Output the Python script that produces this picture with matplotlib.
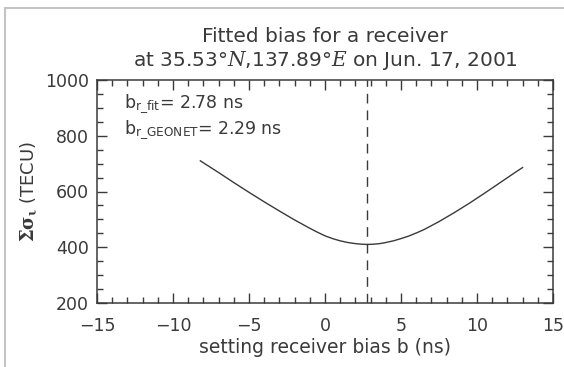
import matplotlib
matplotlib.use("Agg")
import matplotlib.pyplot as plt
from matplotlib.lines import Line2D
from matplotlib.ticker import MultipleLocator

# receiver bias scan: sum of sigma vs. assumed bias
bias = [-8.2, -7, -6, -5, -4, -3, -2, -1, -0.5, 0, 0.5, 1, 1.5, 2, 2.4, 2.78,
        3.2, 3.6, 4, 4.5, 5, 5.5, 6, 6.5, 7.5, 8.5, 9.5, 10.5, 11.5, 12.5, 13]
sum_sigma = [710, 668, 632, 597, 563, 530, 498, 468, 454, 441, 431, 423, 417, 413, 411, 410,
             411, 413, 417, 423, 431, 440, 451, 463, 492, 524, 558, 594, 631, 668, 686]

b_fit = 2.78
b_geonet = 2.29

ink = "#3a3a3a"
plt.rcParams["font.family"] = "DejaVu Sans"
plt.rcParams["mathtext.fontset"] = "dejavuserif"

W, H = 564, 367
fig = plt.figure(figsize=(W / 100, H / 100), dpi=100)

# thin gray frame on the left and top edges
fig.add_artist(Line2D([5 / W, 5 / W], [0, 1 - 8 / H], color="#c4c4c4", lw=1.5))
fig.add_artist(Line2D([5 / W, 1], [1 - 8 / H, 1 - 8 / H], color="#c4c4c4", lw=1.5))

left, right, top, bottom = 97, 553, 80, 303
ax = fig.add_axes([left / W, 1 - bottom / H, (right - left) / W, (bottom - top) / H])
ax.plot(bias, sum_sigma, color=ink, lw=1.0)
ax.axvline(b_fit, color=ink, lw=1.0, dashes=(7, 5))

ax.set_xlim(-15, 15)
ax.set_ylim(200, 1000)
ax.xaxis.set_major_locator(MultipleLocator(5))
ax.xaxis.set_minor_locator(MultipleLocator(1))
ax.yaxis.set_major_locator(MultipleLocator(200))
ax.yaxis.set_minor_locator(MultipleLocator(50))
ax.tick_params(which="both", direction="in", top=True, right=True, color=ink,
               labelcolor=ink, labelsize=12.5)
ax.tick_params(which="major", length=7, width=1)
ax.tick_params(which="minor", length=4, width=1)
ax.tick_params(axis="x", pad=10)
ax.tick_params(axis="y", pad=6)
for s in ax.spines.values():
    s.set_color(ink)
    s.set_linewidth(1.1)

ax.set_xlabel("setting receiver bias b (ns)", color=ink, fontsize=13.5, labelpad=2)
ax.set_ylabel(r"$\mathbf{\Sigma\sigma_{\iota}}$ (TECU)", color=ink, fontsize=13, labelpad=4)

ax.text(-13.2, 914, r"b$_{\mathregular{r\_fit}}$= %.2f ns" % b_fit,
        color=ink, fontsize=12.5, va="center")
ax.text(-13.2, 820, r"b$_{\mathregular{r\_GEONET}}$= %.2f ns" % b_geonet,
        color=ink, fontsize=12.5, va="center")

cx = (left + right) / 2 / W
fig.text(cx, 1 - 36 / H, "Fitted bias for a receiver", ha="center", va="center",
         color=ink, fontsize=14.5)
fig.text(cx, 1 - 61 / H, r"at 35.53°$\mathbf{\mathit{N}}$,137.89°$\mathbf{\mathit{E}}$ on Jun. 17, 2001",
         ha="center", va="center", color=ink, fontsize=14.5)

fig.savefig("out.png", dpi=100)
